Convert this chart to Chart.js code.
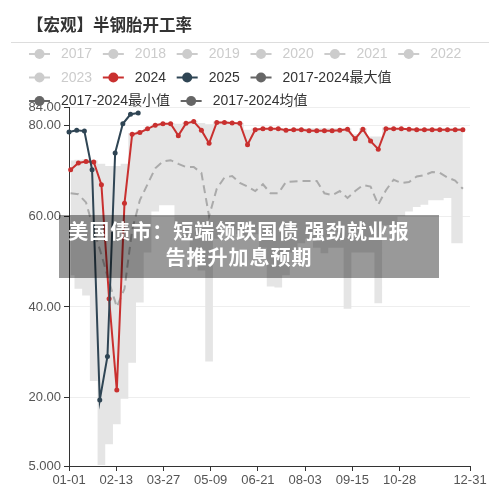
<!DOCTYPE html>
<html>
<head>
<meta charset="utf-8">
<script src="https://cdn.jsdelivr.net/npm/chart.js@4.4.1/dist/chart.umd.min.js"></script>
<style>
  html, body { margin: 0; padding: 0; background: #fff; }
  #wrap { position: relative; width: 500px; height: 493px; overflow: hidden; }
  #chart { position: absolute; left: 0; top: 0; }
  #title { position: absolute; left: 27px; top: 12px; font: bold 16.5px "Noto Sans CJK SC", sans-serif; color: #333; white-space: nowrap; }
  #rule { position: absolute; left: 11px; top: 42px; width: 478px; height: 1px; background: #ddd; }
  #news { position: absolute; left: 59px; top: 215px; width: 380px; height: 63px; background: rgba(0, 0, 0, 0.4); }
  #news div { width: 360px; padding-top: 3px; text-align: center; color: #fff; letter-spacing: 1px; font: bold 20px/26px "Noto Sans CJK SC", sans-serif; }
</style>
</head>
<body>
<div id="wrap">
  <canvas id="chart" width="500" height="493"></canvas>
  <div id="title">【宏观】半钢胎开工率</div>
  <div id="rule"></div>
  <div id="news"><div>美国债市：短端领跌国债 强劲就业报<br>告推升加息预期</div></div>
</div>
<script>
// weekly readings, 2024 axis (day of year)
const v2024 = [70.2, 71.7, 72.0, 71.9, 66.9, 41.8, 21.7, 62.8, 78.0, 78.4, 79.2, 80.0, 80.3,
  80.3, 77.7, 80.4, 80.8, 78.9, 76.0, 80.6, 80.6, 80.5, 80.4, 75.7, 79.0, 79.2, 79.2,
  79.2, 78.9, 79.0, 79.0, 78.8, 78.8, 78.8, 78.8, 78.9, 79.1, 77.0, 79.1, 76.5, 74.7,
  79.2, 79.2, 79.2, 79.1, 79.0, 79.0, 79.0, 79.0, 79.0, 79.0, 79.0]
const v2025 = [78.5, 78.9, 78.7, 70.2, 19.5, 29.1, 73.9, 80.3, 82.4, 82.7]
const vMax = [72.2, 72.4, 72.5, 72.3, 71.5, 71.0, 71.0, 71.5, 78.3, 78.8, 79.5, 80.2, 80.5,
  80.5, 80.3, 80.6, 81.0, 80.5, 80.2, 80.8, 80.8, 80.6, 80.5, 79.0, 79.3, 79.3, 79.3,
  79.3, 79.3, 79.3, 79.3, 79.3, 79.3, 79.3, 79.3, 79.3, 79.3, 78.0, 79.3, 77.5, 77.5,
  79.5, 79.3, 79.3, 79.3, 79.3, 79.3, 79.3, 79.3, 79.3, 79.3, 79.3]
const vMin = [47.0, 44.0, 42.5, 23.7, 5.2, 9.8, 14.2, 19.8, 27.7, 41.0, 52.0, 61.0, 62.4,
  62.4, 57.0, 55.0, 52.0, 48.0, 28.0, 55.0, 58.0, 57.0, 56.0, 55.0, 56.0, 53.0, 44.5,
  44.3, 47.0, 52.0, 54.0, 55.0, 53.0, 51.8, 53.0, 53.0, 39.6, 52.0, 52.0, 52.0, 40.8,
  58.0, 58.0, 60.0, 61.0, 62.0, 62.5, 63.5, 63.5, 64.0, 54.0, 54.0]
const vMean = [65.0, 64.8, 63.0, 57.0, 51.5, 45.5, 40.0, 44.0, 57.0, 63.5, 67.0, 70.5, 72.0,
  72.3, 71.5, 70.8, 70.8, 69.5, 60.0, 66.0, 68.5, 68.8, 67.3, 66.5, 65.5, 67.0, 65.0,
  65.0, 67.5, 67.6, 67.7, 67.7, 67.7, 65.0, 64.6, 65.5, 64.0, 65.5, 66.8, 66.5, 62.5,
  65.7, 68.0, 67.3, 67.5, 68.7, 69.0, 69.7, 69.5, 68.5, 67.8, 66.0]

const tickDays = [0, 43, 86, 129, 172, 215, 258, 301, 365]
const tickLabels = ['01-01', '02-13', '03-27', '05-09', '06-21', '08-03', '09-15', '10-28', '12-31']
const yTicks = [5, 20, 40, 60, 80, 84]

const pastYears = ['2017', '2018', '2019', '2020', '2021', '2022', '2023']
const nameMax = '2017-2024最大值'
const nameMin = '2017-2024最小值'
const nameMean = '2017-2024均值'

const red = '#c9302f'
const navy = '#2f4554'
const grey = '#666'

// week i sits 7 days after week i-1
function weekly(start, arr) {
  return arr.map((v, i) => ({ x: start + 7 * i, y: v }))
}

const legendEntries = pastYears.map(t => ({ text: t, color: '#ccc', active: false }))
  .concat([
    { text: '2024', color: red, active: true },
    { text: '2025', color: navy, active: true },
    { text: nameMax, color: grey, active: true },
    { text: nameMin, color: grey, active: true },
    { text: nameMean, color: grey, active: true }
  ])

// echarts-like legend: line + dot, flowing rows
const legendPlugin = {
  id: 'ecLegend',
  afterDraw(chart) {
    const ctx = chart.ctx
    ctx.save()
    ctx.font = '14px "Liberation Sans", "Noto Sans CJK SC", sans-serif'
    ctx.textBaseline = 'middle'
    let x = 29, y = 54
    legendEntries.forEach(e => {
      const w = 32 + ctx.measureText(e.text).width
      if (x + w > 475) { x = 29; y += 23.5 }
      ctx.strokeStyle = e.color
      ctx.lineWidth = 2
      ctx.beginPath()
      ctx.moveTo(x, y)
      ctx.lineTo(x + 21, y)
      ctx.stroke()
      ctx.fillStyle = e.color
      ctx.beginPath()
      ctx.arc(x + 10.5, y, 5, 0, Math.PI * 2)
      ctx.fill()
      ctx.fillStyle = e.active ? '#333' : '#ccc'
      ctx.fillText(e.text, x + 32, y + 0.5)
      x += w + 10.7
    })
    ctx.restore()
  }
}

Chart.defaults.font.family = '"Liberation Sans", "Noto Sans CJK SC", sans-serif'

const ctx = document.getElementById('chart').getContext('2d')
new Chart(ctx, {
  type: 'line',
  plugins: [legendPlugin],
  data: {
    datasets: [
      {
        label: '2025',
        data: weekly(0, v2025),
        borderColor: navy,
        backgroundColor: navy,
        borderWidth: 2,
        pointRadius: 2.5,
        pointBorderWidth: 0,
        clip: 6
      },
      {
        label: '2024',
        data: weekly(1.5, v2024),
        borderColor: red,
        backgroundColor: red,
        borderWidth: 2,
        pointRadius: 2.5,
        pointBorderWidth: 0,
        clip: 6
      },
      {
        label: nameMean,
        data: weekly(1.5, vMean),
        borderColor: '#aaa',
        borderWidth: 2,
        borderDash: [8, 5],
        pointRadius: 0
      },
      {
        label: nameMax,
        data: weekly(1.5, vMax),
        borderWidth: 0,
        pointRadius: 0,
        stepped: 'middle',
        backgroundColor: '#e5e5e5',
        fill: '+1'
      },
      {
        label: nameMin,
        data: weekly(1.5, vMin),
        borderWidth: 0,
        pointRadius: 0,
        stepped: 'middle',
        fill: false
      }
    ]
  },
  options: {
    responsive: false,
    animation: false,
    layout: { padding: { top: 107, right: 30, left: 0, bottom: 0 } },
    plugins: {
      legend: { display: false },
      tooltip: { enabled: false }
    },
    scales: {
      x: {
        type: 'linear',
        min: 0,
        max: 365,
        afterBuildTicks: s => { s.ticks = tickDays.map(v => ({ value: v })) },
        afterFit: s => { s.height = 27 },
        ticks: {
          callback: (v, i) => tickLabels[i],
          color: '#555',
          font: { size: 13 },
          padding: 2,
          maxRotation: 0,
          autoSkip: false
        },
        grid: { drawOnChartArea: false, tickLength: 5, tickColor: '#333' },
        border: { color: '#333' }
      },
      y: {
        min: 5,
        max: 84,
        afterBuildTicks: s => { s.ticks = yTicks.map(v => ({ value: v })) },
        afterFit: s => { s.width = 69 },
        ticks: {
          callback: v => Number(v).toPrecision(4),
          color: '#555',
          font: { size: 13 },
          padding: 3
        },
        grid: { color: '#eee', tickLength: 5, tickColor: '#333' },
        border: { color: '#333' }
      }
    }
  }
})
</script>
</body>
</html>
